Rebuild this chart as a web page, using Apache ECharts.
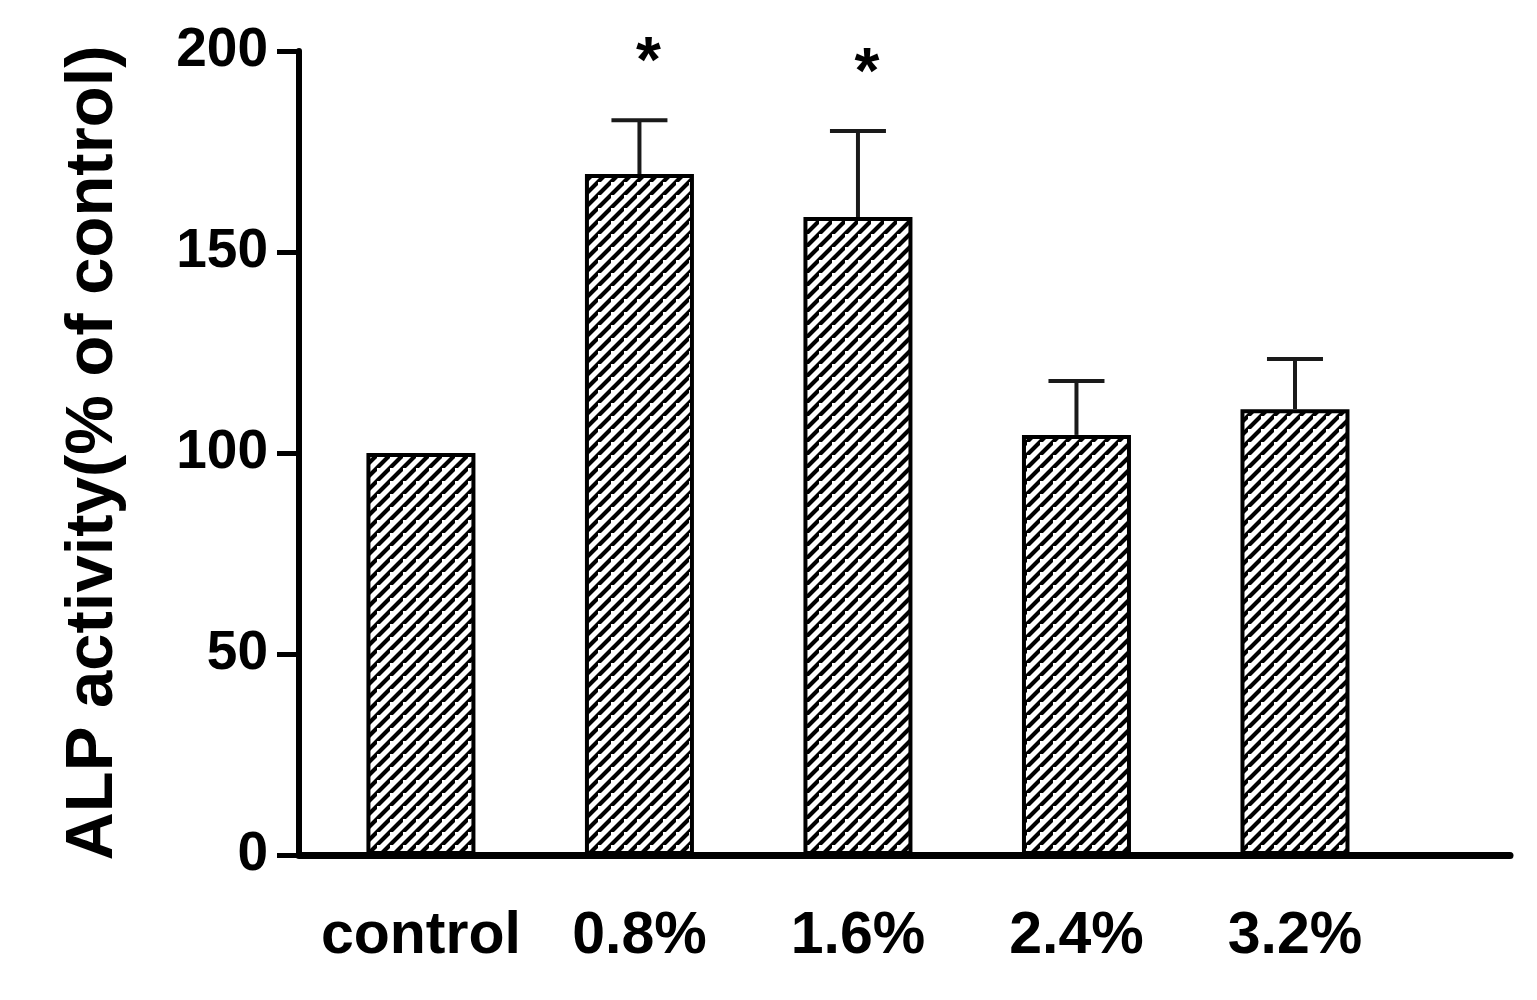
<!DOCTYPE html>
<html>
<head>
<meta charset="utf-8">
<script src="https://cdn.jsdelivr.net/npm/echarts@6/dist/echarts.min.js"></script>
<style>
html,body{margin:0;padding:0;background:#fff;}
#chart{width:1537px;height:1000px;}
</style>
</head>
<body>
<div id="chart"></div>
<script>
// ---- data ----
var categories = ['control', '0.8%', '1.6%', '2.4%', '3.2%'];
var means = [100, 169.4, 158.7, 104.5, 110.9];
var errors = [0, 13.4, 21.4, 13.4, 12.5];
var significance = ['', '*', '*', '', ''];
var yTicks = [0, 50, 100, 150, 200];

var FONT = "'Liberation Sans', Arial, Helvetica, sans-serif";

// hatch pattern (sized in device pixels so it keeps its CSS size)
function makeHatch() {
  var dpr = window.devicePixelRatio || 1;
  var s = 13;
  var S = Math.round(s * dpr);
  var c = document.createElement('canvas');
  c.width = S; c.height = S;
  var ctx = c.getContext('2d');
  ctx.fillStyle = '#fff';
  ctx.fillRect(0, 0, S, S);
  ctx.strokeStyle = '#000';
  ctx.lineWidth = 4.2 * dpr;
  ctx.beginPath();
  ctx.moveTo(-S, S * 2); ctx.lineTo(S * 2, -S);
  ctx.moveTo(-S * 2, S); ctx.lineTo(S, -S * 2);
  ctx.moveTo(0, S * 2); ctx.lineTo(S * 2, 0);
  ctx.stroke();
  return c;
}
var hatch = makeHatch();

var idx = categories.map(function (_, i) { return i; });
var barData = means.map(function (v, i) { return [i, v]; });
var errData = means.map(function (v, i) { return [i, v, v + errors[i]]; });
var starData = [];
significance.forEach(function (s, i) { if (s) starData.push([i, means[i] + errors[i], s]); });

var chart = echarts.init(document.getElementById('chart'), null, {renderer: 'canvas'});
chart.setOption({
  animation: false,
  backgroundColor: '#fff',
  grid: {left: 299, right: 27, top: 51, bottom: 145, containLabel: false},
  xAxis: {
    type: 'value',
    min: -0.558,
    max: 4.984,
    splitLine: {show: false},
    axisLine: {show: true, onZero: false, lineStyle: {color: '#000', width: 7}},
    axisTick: {show: false},
    axisLabel: {
      customValues: idx,
      margin: 52,
      fontFamily: FONT,
      fontWeight: 'bold',
      fontSize: 59,
      color: '#000',
      formatter: function (v) { return categories[Math.round(v)] || ''; }
    }
  },
  yAxis: {
    type: 'value',
    min: 0,
    max: 200,
    interval: 50,
    splitLine: {show: false},
    axisLine: {show: true, onZero: false, lineStyle: {color: '#000', width: 6}},
    axisTick: {show: true, inside: false, length: 22, lineStyle: {color: '#000', width: 5}},
    axisLabel: {
      margin: 31,
      fontFamily: FONT,
      fontWeight: 'bold',
      fontSize: 55,
      color: '#000',
      formatter: function (v) { return yTicks.indexOf(v) >= 0 ? String(v) : ''; }
    },
    name: 'ALP activity(% of control)',
    nameLocation: 'middle',
    nameRotate: 90,
    nameGap: 172,
    nameTextStyle: {fontFamily: FONT, fontWeight: 'bold', fontSize: 67, color: '#000'}
  },
  series: [
    {
      type: 'bar',
      data: barData,
      barWidth: 109,
      itemStyle: {
        color: {image: hatch, repeat: 'repeat'},
        borderColor: '#000',
        borderWidth: 4
      },
      z: 3
    },
    {
      type: 'custom',
      data: errData,
      z: 2,
      renderItem: function (params, api) {
        var x = api.value(0);
        var lo = api.coord([x, api.value(1)]);
        var hi = api.coord([x, api.value(2)]);
        if (Math.abs(hi[1] - lo[1]) < 1) return null;
        var half = 28;
        return {
          type: 'group',
          children: [
            {type: 'line', shape: {x1: lo[0], y1: lo[1], x2: hi[0], y2: hi[1]},
             style: {stroke: '#1a1a1a', lineWidth: 4}},
            {type: 'line', shape: {x1: hi[0] - half, y1: hi[1], x2: hi[0] + half, y2: hi[1]},
             style: {stroke: '#1a1a1a', lineWidth: 4}}
          ]
        };
      }
    },
    {
      type: 'custom',
      data: starData,
      z: 4,
      renderItem: function (params, api) {
        var p = api.coord([api.value(0), api.value(1)]);
        return {
          type: 'text',
          x: p[0] + 9,
          y: p[1] - 56,
          style: {
            text: starData[params.dataIndex][2],
            fontFamily: FONT,
            fontWeight: 'bold',
            fontSize: 64,
            fill: '#000',
            align: 'center',
            verticalAlign: 'middle'
          }
        };
      }
    }
  ]
});
</script>
</body>
</html>
